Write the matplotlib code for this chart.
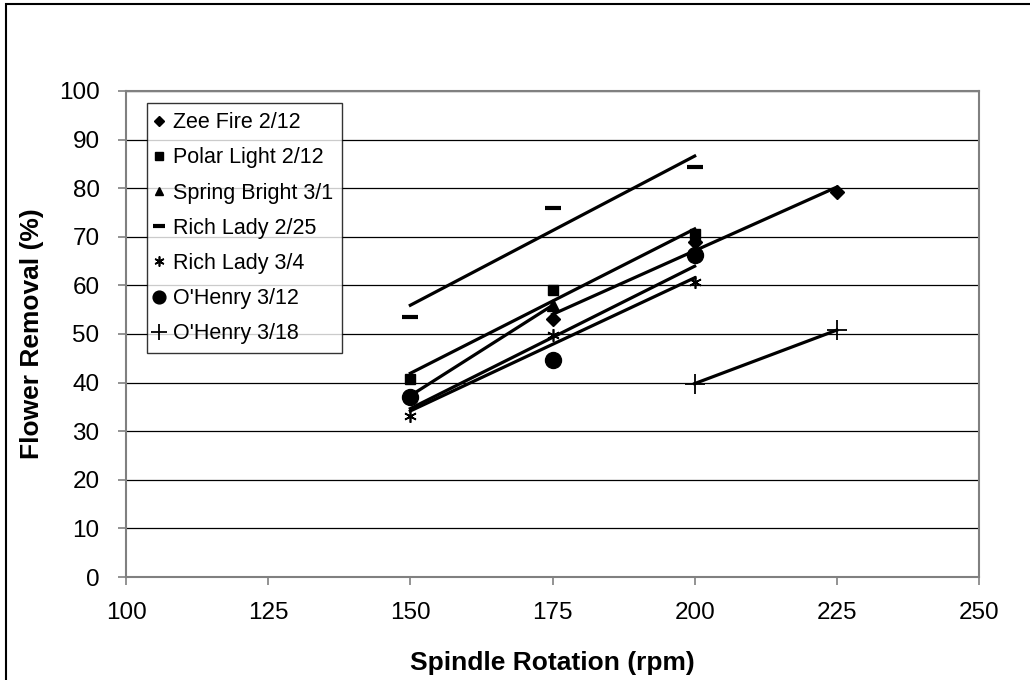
import numpy as np
import matplotlib
matplotlib.use("Agg")
import matplotlib.pyplot as plt
from matplotlib.patches import Rectangle

plt.rcParams['font.family'] = ['Liberation Sans', 'DejaVu Sans']

# data
zee_x = [175, 200, 225]
zee_y = [53.1, 69.0, 79.3]
polar_x = [150, 175, 200]
polar_y = [40.8, 59.0, 70.5]
spring_x = [150, 175]
spring_y = [37.3, 55.9]
rich225_x = [150, 175, 200]
rich225_y = [53.6, 75.9, 84.3]
rich34_x = [150, 175, 200]
rich34_y = [33.2, 49.8, 60.6]
oh312_x = [150, 175, 200]
oh312_y = [37.0, 44.6, 66.3]
oh318_x = [200, 225]
oh318_y = [39.8, 50.8]

series = [
    ('Zee Fire 2/12', zee_x, zee_y, 'D', 7, 1),
    ('Polar Light 2/12', polar_x, polar_y, 's', 7, 1),
    ('Spring Bright 3/1', spring_x, spring_y, '^', 8, 1),
    ('Rich Lady 2/25', rich225_x, rich225_y, '_', 11, 3),
    ('Rich Lady 3/4', rich34_x, rich34_y, (6, 2, 0), 9, 1.2),
    ("O'Henry 3/12", oh312_x, oh312_y, 'o', 11.5, 1),
    ("O'Henry 3/18", oh318_x, oh318_y, '+', 15, 1.3),
]

fig = plt.figure(figsize=(10.3, 6.8), dpi=100)
ax = fig.add_axes([126/1030, 1 - 577/680, 853/1030, 486/680])

# chart area border (runs off the right/bottom edge)
fig.patches.append(Rectangle((6/1030, -0.05), 1.2, 1 - 4/680 + 0.05,
                             transform=fig.transFigure, fill=False,
                             edgecolor='black', linewidth=1.5))

for name, x, y, mk, ms, mew in series:
    ax.plot(x, y, linestyle='none', marker=mk, markersize=ms, color='black',
            markeredgewidth=mew, label=name, zorder=3)
    # linear trendline over the data range
    k, b = np.polyfit(x, y, 1)
    xs = np.array([min(x), max(x)])
    ax.plot(xs, k * xs + b, color='black', linewidth=2.3, zorder=2)

ax.set_xlim(100, 250)
ax.set_ylim(0, 100)
ax.set_xticks(np.arange(100, 251, 25))
ax.set_yticks(np.arange(0, 101, 10))
ax.yaxis.grid(True, color='black', linewidth=0.9)
ax.set_axisbelow(True)
for s in ax.spines.values():
    s.set_color('#808080')
    s.set_linewidth(1.5)
ax.tick_params(direction='out', length=6, width=1.2, color='#808080',
               labelsize=17.5)
ax.tick_params(axis='x', pad=12)
ax.tick_params(axis='y', pad=13)

ax.set_xlabel('Spindle Rotation (rpm)', fontsize=19, fontweight='bold', va='center')
ax.set_ylabel('Flower Removal (%)', fontsize=19, fontweight='bold', va='center')
ax.xaxis.set_label_coords(0.5, (577 - 663) / 486)
ax.yaxis.set_label_coords((32 - 126) / 853, 0.5)

leg = ax.legend(loc='upper left', bbox_to_anchor=(0.0246, 0.975), borderaxespad=0,
                fontsize=15.5, frameon=True, fancybox=False, handlelength=0.3,
                handletextpad=0.5, labelspacing=0.66, borderpad=0.42,
                markerscale=0.8)
leg.get_frame().set_edgecolor('black')
leg.get_frame().set_linewidth(1.0)

plt.savefig('out.png', dpi=100)
